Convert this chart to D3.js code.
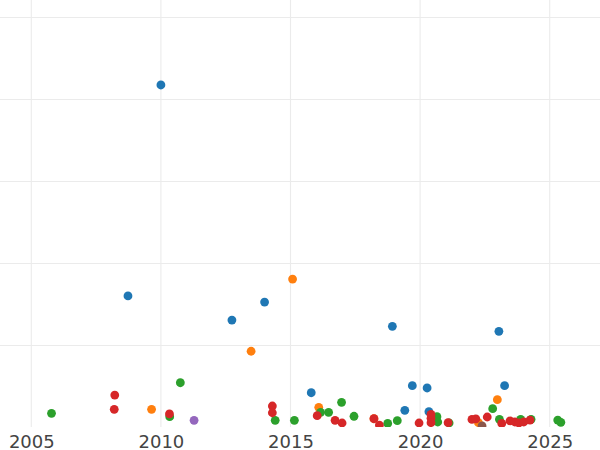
<!DOCTYPE html>
<html>
<head>
<meta charset="utf-8">
<script src="https://cdn.jsdelivr.net/npm/d3@7"></script>
<style>
    body { margin: 0; background: #fff; }
    svg { display: block; }
</style>
</head>
<body>
<svg width="600" height="450"></svg>
<script>
const xTicks = [2005, 2010, 2015, 2020, 2025];
const yTicks = [100, 200, 300, 400, 500];

const blueYears = [2010.0, 2008.73, 2012.74, 2014.0, 2018.93, 2023.04, 2015.8, 2019.7, 2020.27, 2019.41, 2020.34, 2023.26];
const blueValues = [417.7, 160.4, 131, 153, 123.4, 117.3, 42.4, 51, 48.2, 21, 19.3, 51];

const orangeYears = [2015.08, 2013.48, 2009.64, 2016.09, 2022.98, 2018.22, 2022.25];
const orangeValues = [181, 93, 22.2, 24.6, 33.9, 10.7, 5.9];

const greenYears = [2005.78, 2010.75, 2010.34, 2014.41, 2015.15, 2016.16, 2016.47, 2016.97, 2017.45,
    2018.75, 2019.12, 2020.65, 2020.68, 2021.12, 2022.8, 2023.06, 2023.88, 2024.28, 2025.31, 2025.43];
const greenValues = [17.3, 54.6, 13.2, 8.8, 8.8, 18.5, 18.5, 30.7, 13.7,
    5, 8.3, 13.2, 6.7, 5.5, 23, 10, 10, 10, 9.1, 6.3];

const redYears = [2008.22, 2008.2, 2010.33, 2014.3, 2014.3, 2016.03, 2016.72, 2016.99, 2018.22, 2018.43,
    2019.96, 2020.42, 2020.42, 2020.42, 2021.08, 2022.0, 2022.15, 2022.59,
    2023.15, 2023.47, 2023.66, 2023.81, 2024.0, 2024.24];
const redValues = [39.6, 22.2, 16.5, 26.2, 18, 14.4, 8.8, 5.5, 10.7, 3,
    5.5, 11.2, 5.9, 16, 5.9, 9.8, 10.4, 12.8,
    5, 8, 6.7, 5.5, 6.7, 9];

const purpleYears = [2011.28];
const purpleValues = [8.8];

const brownYears = [2022.39];
const brownValues = [2];

const series = [
    {color: "#1f77b4", years: blueYears, values: blueValues},
    {color: "#ff7f0e", years: orangeYears, values: orangeValues},
    {color: "#2ca02c", years: greenYears, values: greenValues},
    {color: "#d62728", years: redYears, values: redValues},
    {color: "#9467bd", years: purpleYears, values: purpleValues},
    {color: "#8c564b", years: brownYears, values: brownValues}
];

let svg = d3.select("svg"),
    width = 600,
    plotBottom = 427;

let x = d3.scaleLinear()
    .domain([2005, 2025])
    .range([31.3, 549.7]);

let y = d3.scaleLinear()
    .domain([0, 500])
    .range([427.5, 17.5]);

svg.append("defs").append("clipPath")
    .attr("id", "plot-clip")
    .append("rect")
    .attr("x", 0)
    .attr("y", 0)
    .attr("width", width)
    .attr("height", plotBottom);

let grid = svg.append("g").attr("class", "grid");

grid.selectAll(".hline")
    .data(yTicks)
    .enter().append("line")
    .attr("x1", 0)
    .attr("x2", width)
    .attr("y1", d => y(d))
    .attr("y2", d => y(d))
    .attr("stroke", "#ebebeb")
    .attr("stroke-width", 1.1);

grid.selectAll(".vline")
    .data(xTicks)
    .enter().append("line")
    .attr("x1", d => x(d))
    .attr("x2", d => x(d))
    .attr("y1", 0)
    .attr("y2", plotBottom)
    .attr("stroke", "#ebebeb")
    .attr("stroke-width", 1.1);

let points = svg.append("g").attr("clip-path", "url(#plot-clip)");

series.forEach(s => {
    points.append("g")
        .attr("fill", s.color)
        .selectAll("circle")
        .data(s.years.map((yr, i) => ({year: yr, value: s.values[i]})))
        .enter().append("circle")
        .attr("cx", d => x(d.year))
        .attr("cy", d => y(d.value))
        .attr("r", 4.4);
});

let xAxis = svg.append("g")
    .attr("transform", "translate(0," + plotBottom + ")")
    .call(d3.axisBottom(x).tickValues(xTicks).tickFormat(d3.format("d")).tickSize(0).tickPadding(0));

xAxis.select(".domain").remove();
xAxis.selectAll("text")
    .attr("y", 20.5)
    .attr("dy", 0)
    .style("font", "18px 'DejaVu Sans'")
    .attr("fill", "#444");
</script>
</body>
</html>
